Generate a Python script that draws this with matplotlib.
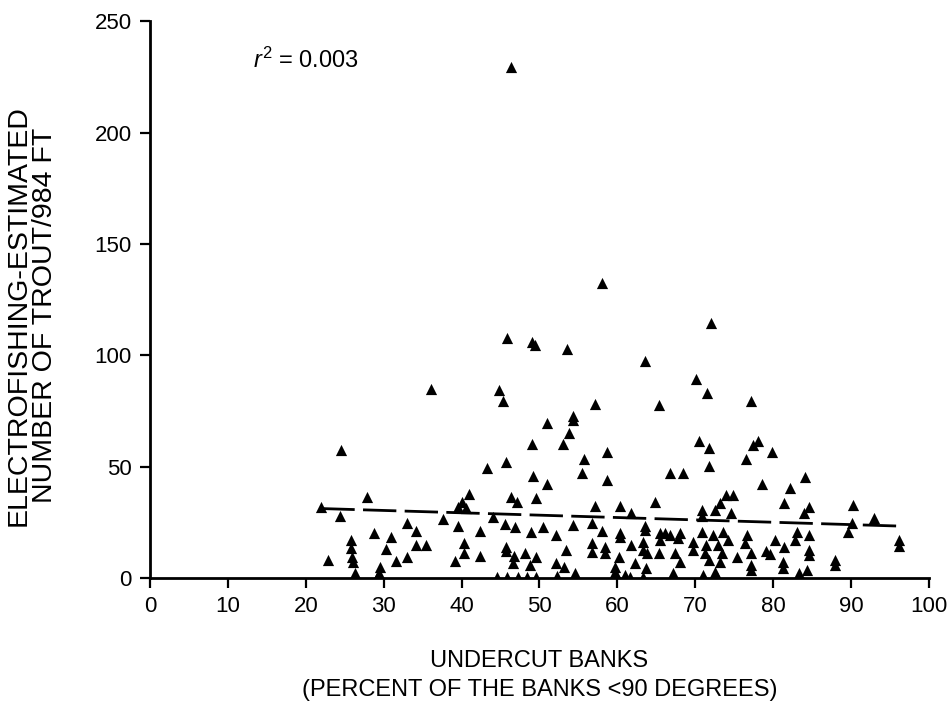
import numpy as np
import matplotlib
matplotlib.use('Agg')
import matplotlib.pyplot as plt

plt.rcParams['font.family'] = ['Liberation Sans', 'DejaVu Sans']
plt.rcParams['mathtext.fontset'] = 'custom'
plt.rcParams['mathtext.rm'] = 'Liberation Sans'
plt.rcParams['mathtext.it'] = 'Liberation Sans:italic'

# undercut banks (%) vs electrofishing-estimated trout per 984 ft
undercut = [
    21.9, 22.9, 24.5, 24.4, 25.8, 25.8, 25.9, 26.1, 26.3, 26.2, 27.8, 28.8, 29.5, 29.4, 29.1,
    30.3, 30.9, 31.6, 33.0, 33.0, 34.2, 34.2, 35.4,
    36.1, 37.6, 39.6, 40.6, 40.9, 40.1, 39.6, 40.3, 40.3, 39.2, 42.4, 42.4, 43.2, 44.0, 44.8,
    45.3, 44.5,
    45.7, 45.8, 46.3, 45.6, 45.7, 45.7, 45.8, 46.4, 47.1, 46.9, 46.7, 46.6, 47.2, 48.1, 48.9,
    48.8, 48.4, 49.0, 49.4, 49.1, 49.2, 49.6, 49.6, 49.5, 50.5, 50.9, 50.9, 52.1, 52.1, 52.3,
    53.5, 53.0, 53.8, 53.4, 53.1, 54.3, 54.3, 54.3, 54.6, 54.4, 55.7, 55.4, 56.7, 56.7, 56.7,
    57.1, 57.1, 58.0, 58.7, 58.7, 58.0, 58.4, 58.4, 59.7, 59.7, 59.9,
    60.3, 60.3, 60.3, 60.2, 61.8, 61.8, 61.0, 61.6, 62.3, 63.5, 63.5, 63.5, 63.3, 63.3, 63.8,
    63.7, 63.3, 64.8, 65.3, 65.5, 65.5, 65.3, 66.8, 66.1, 66.8, 67.4, 67.2, 67.8, 68.4, 68.1,
    68.0, 69.7, 69.7,
    70.1, 70.5, 70.9, 70.9, 70.8, 71.5, 71.8, 71.7, 71.4, 71.2, 71.7, 71.0, 72.0, 72.5, 72.3,
    72.9, 72.5, 72.8, 73.2, 73.6, 73.4, 73.2, 74.0, 74.8, 74.6, 74.2, 75.4, 76.5, 76.7, 76.4,
    77.2, 77.4, 78.1, 77.2, 77.2, 77.2, 78.5, 79.8, 79.1, 79.6,
    80.2, 81.4, 81.4, 81.3, 81.3, 82.1, 83.0, 82.8, 83.3, 84.1, 84.6, 84.0, 84.6, 84.6, 84.6,
    84.3, 87.9, 87.9, 90.3, 90.1, 89.6, 92.9, 96.1, 96.1,
]
trout = [
    32.0, 8.1, 57.5, 27.8, 17.0, 13.5, 9.6, 7.3, 2.1, 0.5, 36.2, 20.0, 5.1, 2.1, 0.3,
    12.9, 18.3, 7.8, 9.6, 24.8, 21.2, 14.8, 14.8,
    84.7, 26.3, 32.0, 31.3, 37.7, 34.3, 23.3, 15.9, 11.1, 7.6, 21.2, 9.9, 49.2, 27.5, 84.4,
    79.4, 0.5,
    52.2, 107.9, 229.5, 24.2, 14.1, 12.3, 0.5, 36.2, 34.3, 23.0, 9.9, 6.6, 0.5, 11.1, 20.8,
    5.8, 0.5, 106.1, 104.6, 60.2, 45.6, 35.8, 9.6, 0.5, 22.8, 69.7, 42.3, 19.3, 6.9, 0.8,
    102.6, 60.2, 64.9, 12.6, 5.1, 72.9, 70.9, 23.8, 2.1, 0.5, 53.5, 47.0, 24.8, 15.6, 11.8,
    78.0, 32.3, 132.3, 56.7, 44.0, 21.1, 14.1, 11.1, 5.1, 2.8, 0.5,
    32.3, 20.1, 18.5, 9.6, 29.0, 14.8, 1.3, 0.5, 6.6, 97.5, 23.3, 21.5, 16.3, 12.6, 11.1,
    4.3, 0.5, 34.3, 77.6, 20.1, 17.1, 11.1, 47.3, 20.1, 19.3, 11.1, 2.1, 17.8, 47.3, 20.1,
    7.3, 16.3, 12.6,
    89.2, 61.6, 30.5, 20.8, 28.0, 82.9, 58.2, 50.3, 14.8, 11.1, 8.1, 1.3, 114.3, 30.5, 19.3,
    14.8, 2.8, 0.5, 33.5, 20.8, 11.1, 7.3, 37.3, 37.3, 29.0, 17.1, 9.3, 53.3, 19.3, 15.6,
    79.6, 59.7, 61.6, 11.1, 5.8, 3.6, 42.2, 56.7, 12.3, 10.8,
    17.1, 33.8, 14.1, 7.3, 4.3, 40.5, 20.8, 17.1, 2.1, 45.2, 32.0, 29.0, 19.3, 12.6, 10.3,
    3.6, 8.1, 5.8, 32.8, 24.5, 20.8, 26.8, 17.0, 14.5,
]

# fitted line as printed
fit_x = [22.0, 96.5]
fit_intercept = 33.5
fit_slope = -0.106
r2_label = r'$r^2$ = 0.003'

fig = plt.figure(figsize=(9.53, 7.07), dpi=100)
ax = fig.add_axes([0.1574, 0.1825, 0.8174, 0.7875])

ax.scatter(undercut, trout, marker='^', s=65, color='black', linewidths=0, zorder=3)

fx = np.array(fit_x)
ax.plot(fx, fit_intercept + fit_slope * fx, color='black', lw=2.0,
        dashes=(12, 3), zorder=2)

ax.text(13.2, 232.5, r2_label, fontsize=17, ha='left', va='center')

ax.set_xlim(0, 100)
ax.set_ylim(0, 250)
ax.set_xticks(np.arange(0, 101, 10))
ax.set_yticks(np.arange(0, 251, 50))
for side in ['top', 'right']:
    ax.spines[side].set_visible(False)
for side in ['left', 'bottom']:
    ax.spines[side].set_linewidth(2.0)
ax.tick_params(direction='out', length=7, width=1.6, labelsize=16, pad=6)

ax.set_xlabel('UNDERCUT BANKS\n(PERCENT OF THE BANKS <90 DEGREES)', fontsize=17,
              labelpad=24, linespacing=1.4)
ax.set_ylabel('ELECTROFISHING-ESTIMATED\nNUMBER OF TROUT/984 FT', fontsize=20.5,
              linespacing=1.0)
ax.yaxis.set_label_coords(-0.118, 0.472)

fig.savefig('out.png', dpi=100)
